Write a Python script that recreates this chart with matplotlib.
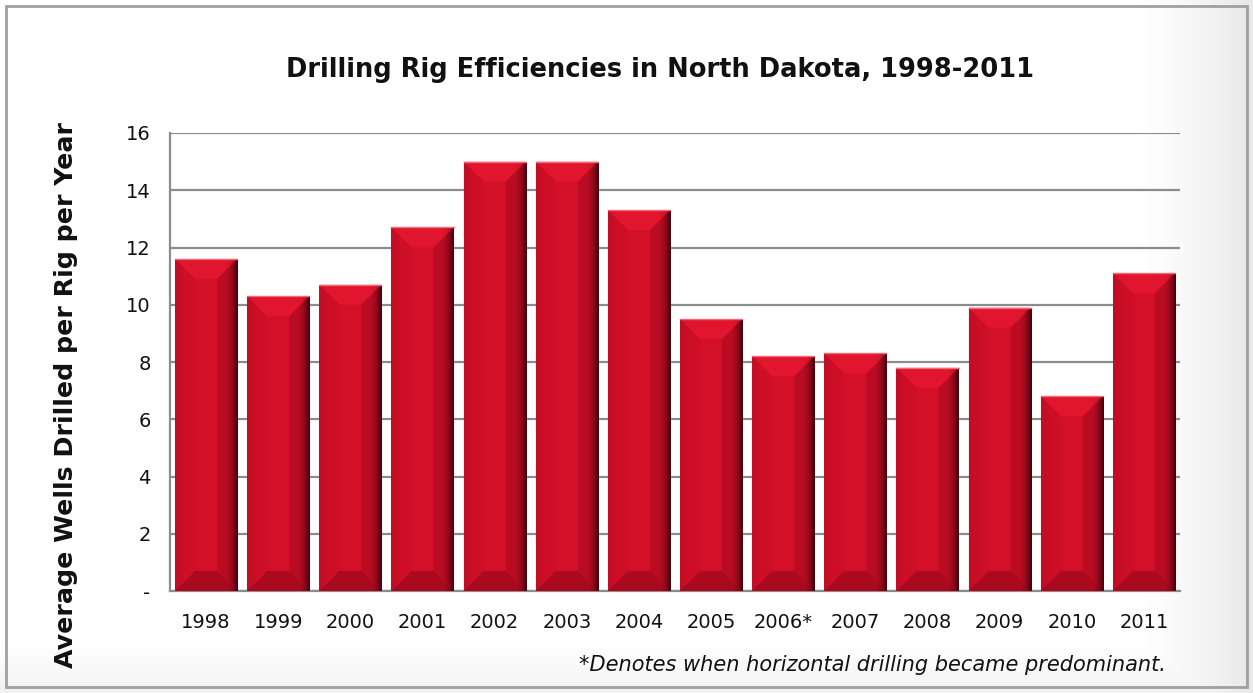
import matplotlib
matplotlib.use("Agg")
import matplotlib.pyplot as plt
import numpy as np
from matplotlib.patches import Rectangle, Polygon

years = ["1998", "1999", "2000", "2001", "2002", "2003", "2004",
         "2005", "2006*", "2007", "2008", "2009", "2010", "2011"]
values = [11.6, 10.3, 10.7, 12.7, 15.0, 15.0, 13.3,
          9.5, 8.2, 8.3, 7.8, 9.9, 6.8, 11.1]
yticks = [0, 2, 4, 6, 8, 10, 12, 14, 16]
ytick_labels = ["-", "2", "4", "6", "8", "10", "12", "14", "16"]

title = "Drilling Rig Efficiencies in North Dakota, 1998-2011"
ylabel = "Average Wells Drilled per Rig per Year"
footnote = "*Denotes when horizontal drilling became predominant."

W, H = 1253, 693
fig = plt.figure(figsize=(W / 100, H / 100), dpi=100)
fig.patch.set_facecolor("white")

# background with soft grey shading on right and bottom edges
bg = fig.add_axes([0, 0, 1, 1], zorder=-10)
bg.set_axis_off()
xx = np.linspace(0, 1, W)[None, :]
yy = np.linspace(0, 1, H)[:, None]
right = np.clip((xx - 0.91) / 0.09, 0, 1) ** 1.3
bottom = np.clip((yy - 0.92) / 0.08, 0, 1) ** 1.5
shade = 1 - 0.09 * np.maximum(right, 0.6 * bottom)
bg.imshow(np.dstack([shade] * 3), extent=[0, 1, 0, 1], aspect="auto",
          origin="upper", interpolation="bilinear")
bg.set_xlim(0, 1)
bg.set_ylim(0, 1)
bg.add_patch(Rectangle((6 / W, 6 / H), 1 - 12 / W, 1 - 12 / H,
                       fill=False, edgecolor="#a0a0a0", lw=2.0))

ax = fig.add_axes([170 / W, 1 - 591 / H, (1180 - 170) / W, (591 - 133) / H])
ax.patch.set_alpha(0)
ax.set_xlim(-0.5, len(years) - 0.5)
ax.set_ylim(0, 16)

ax.set_yticks(yticks)
ax.set_yticklabels(ytick_labels)
ax.yaxis.grid(True, color="#8c8c8c", lw=1.6)
ax.set_axisbelow(True)
for s in ["top", "right"]:
    ax.spines[s].set_visible(False)
for s in ["left", "bottom"]:
    ax.spines[s].set_color("#8c8c8c")
    ax.spines[s].set_linewidth(1.6)
ax.tick_params(axis="both", length=0, labelsize=14, colors="#111111")
ax.tick_params(axis="y", pad=14)
ax.tick_params(axis="x", pad=16)
ax.set_xticks(range(len(years)))
ax.set_xticklabels(years)

bw = 0.86
bars = ax.bar(range(len(years)), values, width=bw, color="#d2102a",
              edgecolor="none", zorder=2)

# pixel-to-data conversions for the bevel
px_x = (len(years)) / (1180 - 170)
px_y = 16 / (591 - 133)
bev = 20

# horizontal gradient across each bar (dark right edge)
t = np.linspace(0, 1, 256)
lum = np.ones_like(t)
lum = lum - 0.07 * np.clip((0.15 - t) / 0.15, 0, 1)
lum = lum - 0.72 * np.clip((t - 0.80) / 0.20, 0, 1) ** 1.8
base = np.array([0.835, 0.06, 0.16])
grad = np.clip(base[None, :] * lum[:, None], 0, 1)[None, :, :]

for rect, v in zip(bars, values):
    x0 = rect.get_x()
    x1 = x0 + rect.get_width()
    im = ax.imshow(grad, extent=[x0, x1, 0, v], aspect="auto",
                   zorder=3, interpolation="bilinear")
    im.set_clip_path(rect)
    bx = bev * px_x
    by = bev * px_y
    # top bevel (lighter)
    ax.add_patch(Polygon([(x0, v), (x1, v), (x1 - bx, v - by), (x0 + bx, v - by)],
                         closed=True, facecolor="#ec1a32", edgecolor="none",
                         alpha=0.55, zorder=4))
    # bottom bevel (darker)
    ax.add_patch(Polygon([(x0, 0), (x1, 0), (x1 - bx, by), (x0 + bx, by)],
                         closed=True, facecolor="#7a0414", edgecolor="none",
                         alpha=0.45, zorder=4))
    # left bevel (slightly darker)
    ax.add_patch(Polygon([(x0, v), (x0, 0), (x0 + bx, by), (x0 + bx, v - by)],
                         closed=True, facecolor="#a00a1e", edgecolor="none",
                         alpha=0.15, zorder=4))
    # right bevel shading
    ax.add_patch(Polygon([(x1, v), (x1, 0), (x1 - bx, by), (x1 - bx, v - by)],
                         closed=True, facecolor="#50000c", edgecolor="none",
                         alpha=0.20, zorder=4))
    # top highlight line
    ax.plot([x0, x1], [v, v], color="#f06a78", lw=1.0, zorder=5)

fig.text(66 / W, 1 - 395 / H, ylabel, rotation=90, ha="center", va="center",
         fontsize=18.2, fontweight="bold", color="#111111")

fig.text(660 / W, 1 - 70 / H, title, ha="center", va="center",
         fontsize=18.5, fontweight="bold", color="#111111")
fig.text(1166 / W, 1 - 665 / H, footnote, ha="right", va="center",
         fontsize=15, style="italic", color="#111111")

fig.savefig("out.png", dpi=100, facecolor=fig.get_facecolor())
